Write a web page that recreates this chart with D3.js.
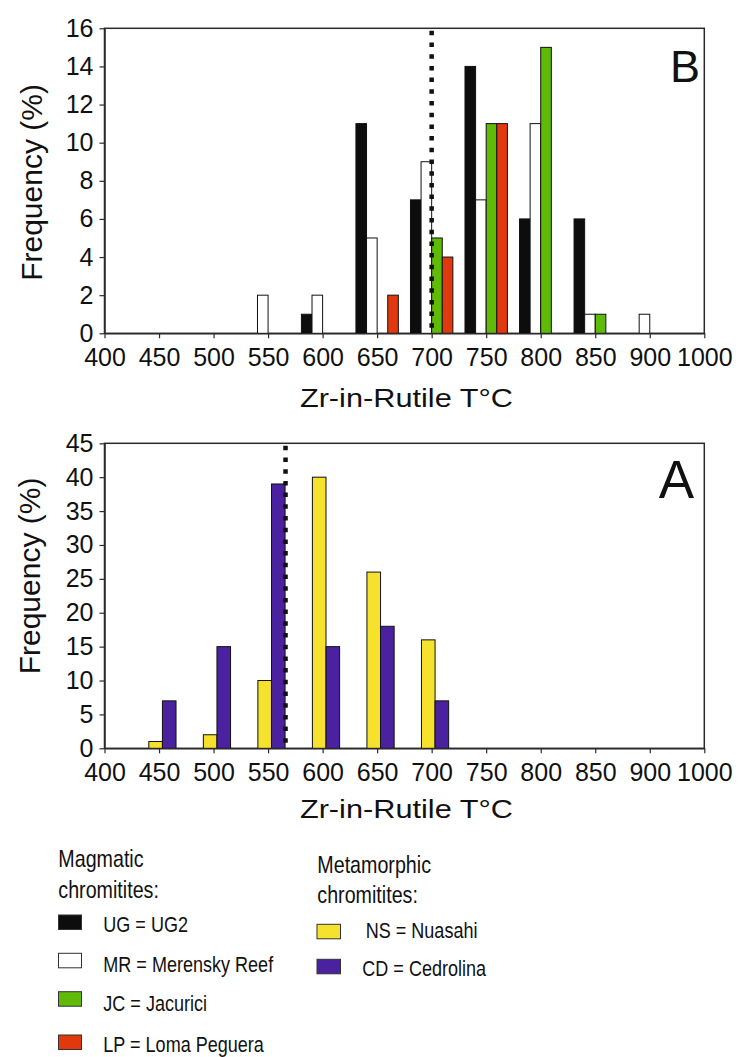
<!DOCTYPE html>
<html>
<head>
<meta charset="utf-8">
<script src="https://cdn.jsdelivr.net/npm/d3@7"></script>
<style>
  html, body { margin: 0; padding: 0; background: #fff; }
  svg { display: block; font-family: "Liberation Sans", Arial, sans-serif; }
</style>
</head>
<body>
<svg id="chart" width="749" height="1057"></svg>
<script>
// Temperature bins (°C) shared by both histograms
const bins = ['400','450','500','550','600','650','700','750','800','850','900','1000'];

// Panel B: magmatic chromitites, frequency (%) per bin
const seriesB = ['UG', 'MR', 'JC', 'LP'];
const ugValues = [0, 0, 0, 0, 1, 11, 7, 14, 6, 6, 0, 0];
const mrValues = [0, 0, 0, 2, 2, 5, 9, 7, 11, 1, 1, 0];
const jcValues = [0, 0, 0, 0, 0, 0, 5, 11, 15, 1, 0, 0];
const lpValues = [0, 0, 0, 0, 0, 2, 4, 11, 0, 0, 0, 0];
const yTicksB = [0, 2, 4, 6, 8, 10, 12, 14, 16];
const thresholdB = 700;

// Panel A: metamorphic chromitites, frequency (%) per bin
const seriesA = ['NS', 'CD'];
const nsValues = [0, 1, 2, 10, 40, 26, 16, 0, 0, 0, 0, 0];
const cdValues = [0, 7, 15, 39, 15, 18, 7, 0, 0, 0, 0, 0];
const yTicksA = [0, 5, 10, 15, 20, 25, 30, 35, 40, 45];
const thresholdA = 566;

// Legend entries
const magmaticLegend = [
  { key: 'UG', label: 'UG = UG2' },
  { key: 'MR', label: 'MR = Merensky Reef' },
  { key: 'JC', label: 'JC = Jacurici' },
  { key: 'LP', label: 'LP = Loma Peguera' }
];
const metamorphicLegend = [
  { key: 'NS', label: 'NS = Nuasahi' },
  { key: 'CD', label: 'CD = Cedrolina' }
];

const colors = {
  UG: '#0d0d0d', MR: '#ffffff', JC: '#5fbb08', LP: '#e2380e',
  NS: '#f6e22c', CD: '#4a22a0'
};

const svg = d3.select('#chart');
const axisColor = '#2a2a2a';

// Converts a temperature to an x position on the bin axis (bins are evenly spaced labels)
function tempToX(x, t) {
  const nums = bins.map(Number);
  for (let i = 0; i < nums.length - 1; i++) {
    if (t >= nums[i] && t <= nums[i + 1]) {
      const f = (t - nums[i]) / (nums[i + 1] - nums[i]);
      return x(bins[i]) + f * (x(bins[i + 1]) - x(bins[i]));
    }
  }
  return x(bins[0]);
}

function panel(opts) {
  const { top, bottom, left, right, yMax, yTicks, series, valueSets, subRange,
          threshold, letter, letterX, letterY, letterSize, yTitleX, yTitleY, xTitleY } = opts;
  const g = svg.append('g');

  const x = d3.scalePoint().domain(bins).range([left, right]).padding(0);
  const y = d3.scaleLinear().domain([0, yMax]).range([bottom, top]);
  const sub = d3.scaleBand().domain(series).range(subRange).padding(0);

  // frame
  g.append('rect')
    .attr('x', left).attr('y', top)
    .attr('width', right - left).attr('height', bottom - top)
    .attr('fill', '#fff').attr('stroke', axisColor).attr('stroke-width', 1.5);

  // bars
  series.forEach((s, si) => {
    const vals = valueSets[si];
    g.append('g').selectAll('rect')
      .data(bins.map((b, i) => ({ b, v: vals[i] })).filter(d => d.v > 0))
      .join('rect')
      .attr('x', d => x(d.b) + sub(s))
      .attr('y', d => y(d.v))
      .attr('width', sub.bandwidth())
      .attr('height', d => y(0) - y(d.v))
      .attr('fill', colors[s])
      .attr('stroke', '#111')
      .attr('stroke-width', 1);
  });

  // threshold dotted line
  const tx = tempToX(x, threshold);
  g.append('line')
    .attr('x1', tx).attr('x2', tx)
    .attr('y1', top + 2.5).attr('y2', bottom)
    .attr('stroke', '#111').attr('stroke-width', 4.5)
    .attr('stroke-dasharray', '4.5,7.2');

  // axes
  const xAxis = g.append('g')
    .attr('transform', `translate(0,${bottom})`)
    .call(d3.axisBottom(x).tickSizeInner(5).tickSizeOuter(0).tickPadding(6));
  xAxis.select('.domain').attr('stroke', axisColor).attr('stroke-width', 1.5);
  xAxis.selectAll('.tick line').attr('stroke', axisColor).attr('stroke-width', 1.2);
  xAxis.selectAll('.tick text')
    .attr('fill', '#111').attr('font-size', 25)
    .attr('font-family', '"Liberation Sans", Arial, sans-serif')
    .attr('dy', '0.86em');

  const yAxis = g.append('g')
    .attr('transform', `translate(${left},0)`)
    .call(d3.axisLeft(y).tickValues(yTicks).tickSizeInner(5).tickSizeOuter(0).tickPadding(6));
  yAxis.select('.domain').attr('stroke', axisColor).attr('stroke-width', 1.5);
  yAxis.selectAll('.tick line').attr('stroke', axisColor).attr('stroke-width', 1.2);
  yAxis.selectAll('.tick text')
    .attr('fill', '#111').attr('font-size', 25)
    .attr('font-family', '"Liberation Sans", Arial, sans-serif');

  // titles
  g.append('text')
    .attr('transform', `translate(${yTitleX},${yTitleY}) rotate(-90)`)
    .attr('text-anchor', 'middle')
    .attr('font-size', 30).attr('fill', '#111')
    .text('Frequency (%)');

  g.append('text')
    .attr('x', (left + right) / 2 + 2).attr('y', xTitleY)
    .attr('text-anchor', 'middle')
    .attr('font-size', 26).attr('fill', '#111')
    .attr('textLength', 213).attr('lengthAdjust', 'spacingAndGlyphs')
    .text('Zr-in-Rutile T°C');

  g.append('text')
    .attr('x', letterX).attr('y', letterY)
    .attr('text-anchor', 'end')
    .attr('font-size', letterSize).attr('fill', '#111')
    .text(letter);
}

panel({
  top: 28.3, bottom: 333.3, left: 104.5, right: 704.3,
  yMax: 16, yTicks: yTicksB, series: seriesB,
  valueSets: [ugValues, mrValues, jcValues, lpValues],
  subRange: [-21.2, 21.2], threshold: thresholdB,
  letter: 'B', letterX: 700, letterY: 82.3, letterSize: 45,
  yTitleX: 42.3, yTitleY: 182.5, xTitleY: 407
});

panel({
  top: 443.3, bottom: 748.3, left: 104.5, right: 704.3,
  yMax: 45, yTicks: yTicksA, series: seriesA,
  valueSets: [nsValues, cdValues],
  subRange: [-10.2, 17], threshold: thresholdA,
  letter: 'A', letterX: 694, letterY: 498, letterSize: 53,
  yTitleX: 40, yTitleY: 576, xTitleY: 818
});

// legend, set in a condensed face
const narrow = 0.82;
function legendText(x, y, size, str) {
  svg.append('text')
    .attr('transform', `translate(${x},${y}) scale(${narrow},1)`)
    .attr('font-size', size).attr('fill', '#111')
    .text(str);
}

legendText(58.3, 866.7, 24, 'Magmatic');
legendText(58.3, 898.3, 24, 'chromitites:');
const magY = [915, 953.3, 991.7, 1035];
const magTextY = [932.3, 971.7, 1011, 1051.7];
magmaticLegend.forEach((d, i) => {
  svg.append('rect')
    .attr('x', 58.5).attr('y', magY[i]).attr('width', 23).attr('height', 14.5)
    .attr('fill', colors[d.key]).attr('stroke', '#333').attr('stroke-width', 1);
  legendText(103.3, magTextY[i], 22, d.label);
});

legendText(317.3, 873.3, 24, 'Metamorphic');
legendText(317.3, 903.3, 24, 'chromitites:');
const metY = [924.3, 959.3];
const metTextX = [365.7, 362.3];
const metTextY = [938.3, 976];
metamorphicLegend.forEach((d, i) => {
  svg.append('rect')
    .attr('x', 317).attr('y', metY[i]).attr('width', 23.5).attr('height', 14.5)
    .attr('fill', colors[d.key]).attr('stroke', '#333').attr('stroke-width', 1);
  legendText(metTextX[i], metTextY[i], 22, d.label);
});
</script>
</body>
</html>
